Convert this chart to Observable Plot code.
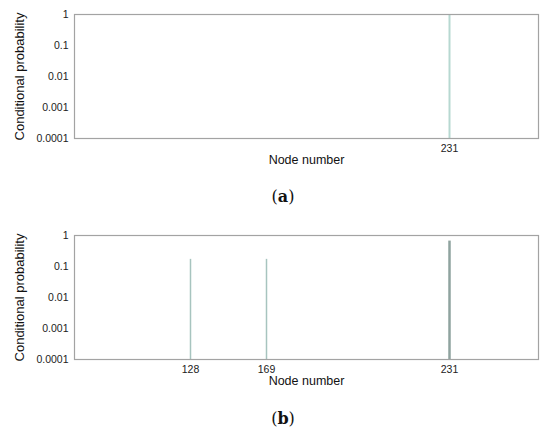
<!DOCTYPE html>
<html>
<head>
<meta charset="utf-8">
<script src="https://cdn.jsdelivr.net/npm/d3@7"></script>
<script src="https://cdn.jsdelivr.net/npm/@observablehq/plot@0.6"></script>
<style>
  html, body { margin: 0; padding: 0; background: #fff; }
  #wrap { position: relative; width: 550px; height: 436px; overflow: hidden; }
  .panel { position: absolute; left: 0; }
  .cap { position: absolute; width: 550px; left: 0; text-align: center; font-family: "DejaVu Serif", "Liberation Serif", serif; font-size: 16px; color: #111; }
</style>
</head>
<body>
<div id="wrap">
  <div id="pa" class="panel" style="top:0px"></div>
  <div class="cap" style="top:187px; left:8px">(<b>a</b>)</div>
  <div id="pb" class="panel" style="top:221px"></div>
  <div class="cap" style="top:409px; left:8px">(<b>b</b>)</div>
</div>
<script>
// Panel (a)
const nodesA = [231];
const probA = [1];
// Panel (b)
const nodesB = [128, 169, 231];
const probB = [0.17, 0.17, 0.66];
// Axis ticks
const yTicks = [0.0001, 0.001, 0.01, 0.1, 1];
const xTicksA = [231];
const xTicksB = [128, 169, 231];
// x axis (node number) breakpoints of the category axis
const xBreaks = [60, 128, 169, 231, 266];

const colorsA = ["#b7d8d1"];
const colorsB = ["#a7c4bf", "#a7c4bf", "#8fa39f"];
const widthsB = [1.5, 1.5, 2.5];

function panel(nodes, probs, colors, widths, xTicks) {
  const data = nodes.map((n, i) => ({node: n, p: probs[i], c: colors[i], w: widths[i]}));
  return Plot.plot({
    width: 550,
    height: 176,
    marginLeft: 74,
    marginRight: 12,
    marginTop: 14,
    marginBottom: 38,
    style: {fontFamily: "'Liberation Sans', Arial, sans-serif", fontSize: "10px", color: "#222", background: "#fff"},
    x: {type: "linear", domain: xBreaks, range: [74, 190, 266, 449, 538]},
    y: {type: "log", domain: [0.0001, 1]},
    marks: [
      Plot.ruleX(data, {x: "node", y1: 0.0001, y2: "p", stroke: d => d.c, strokeWidth: d => d.w}),
      Plot.frame({stroke: "#a3a3a3", strokeWidth: 1.2}),
      Plot.axisY({ticks: yTicks, tickFormat: d => String(d), tickSize: 0, tickPadding: 6, label: null, fontSize: 10.5}),
      Plot.axisX({ticks: xTicks, tickFormat: d => String(d), tickSize: 0, tickPadding: 6, label: null, fontSize: 10.5}),
      Plot.text(["Node number"], {frameAnchor: "bottom", dy: 25, fontSize: 12.5, fill: "#111"}),
      Plot.text(["Conditional probability"], {frameAnchor: "left", textAnchor: "middle", dx: -55, rotate: -90, fontSize: 13, fill: "#111"})
    ]
  });
}

document.getElementById("pa").appendChild(panel(nodesA, probA, colorsA, [2], xTicksA));
document.getElementById("pb").appendChild(panel(nodesB, probB, colorsB, widthsB, xTicksB));
</script>
</body>
</html>
